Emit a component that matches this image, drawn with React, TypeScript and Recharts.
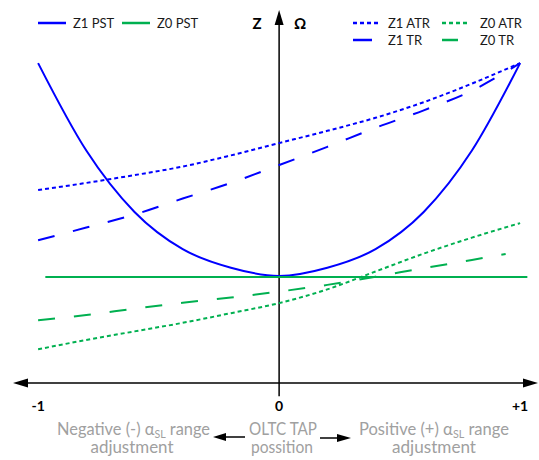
import { LineChart, Line, XAxis, YAxis, ReferenceLine, Legend } from "recharts";

// OLTC tap position, normalised -1 .. +1
const taps = [-1, -0.8, -0.6, -0.4, -0.2, 0, 0.2, 0.4, 0.6, 0.8, 1];
const z1Pst = [86, 62.5, 46, 36, 31, 28.8, 31, 36, 46, 62.5, 86];
const z1Atr = [51.9, 53.8, 55.9, 58.2, 61.2, 64.5, 67.8, 71.3, 75.5, 80.5, 86];
const z1Tr = [38.4, 41.8, 45.3, 49.6, 53.8, 58.6, 63.5, 68.6, 73.3, 78.6, 86];
const z0Atr = [9.1, 11.6, 13.9, 16.2, 18.8, 21.5, 25.2, 30.0, 34.8, 39.1, 43];
const z0TrTaps = [-1, -0.8, -0.6, -0.4, -0.2, 0, 0.2, 0.4, 0.6, 0.8, 0.94];
const z0Tr = [16.9, 18.3, 20.0, 21.6, 23.0, 24.6, 26.4, 28.6, 30.9, 33.1, 34.7];
const z0PstTaps = [-0.97, 1.03];
const z0Pst = [28.5, 28.5];

const tickTaps = [-1, 0, 1];
const tickLabels = ["-1", "0", "+1"];

const BLUE = "#0000ff";
const GREEN = "#00b050";
const GRAY = "#a0a0a0";
const FONT = "Lato, 'Open Sans', sans-serif";

const toPoints = (xs: number[], ys: number[]) => xs.map((tap, i) => ({ tap, z: ys[i] }));

const series = [
  { name: "Z1 PST", data: toPoints(taps, z1Pst), color: BLUE, dash: undefined, curve: "monotone" },
  { name: "Z0 PST", data: toPoints(z0PstTaps, z0Pst), color: GREEN, dash: undefined, curve: "linear" },
  { name: "Z1 ATR", data: toPoints(taps, z1Atr), color: BLUE, dash: "4 3", curve: "monotone" },
  { name: "Z0 ATR", data: toPoints(taps, z0Atr), color: GREEN, dash: "4 3", curve: "monotone" },
  { name: "Z1 TR", data: toPoints(taps, z1Tr), color: BLUE, dash: "17 19", curve: "monotone" },
  { name: "Z0 TR", data: toPoints(z0TrTaps, z0Tr), color: GREEN, dash: "17 19", curve: "monotone" },
];

// legend slot: swatch start, swatch length, text start, row y
const legendSlots: Record<string, { x: number; len: number; tx: number; y: number }> = {
  "Z1 PST": { x: 38, len: 28, tx: 73, y: 23 },
  "Z0 PST": { x: 122, len: 28, tx: 157, y: 23 },
  "Z1 ATR": { x: 353, len: 27, tx: 388, y: 23 },
  "Z0 ATR": { x: 442, len: 28, tx: 480, y: 23 },
  "Z1 TR": { x: 353, len: 19, tx: 388, y: 40 },
  "Z0 TR": { x: 442, len: 16, tx: 480, y: 40 },
};

const LegendContent = (props: any) => {
  const payload = props.payload || [];
  return (
    <svg width={539} height={50} style={{ display: "block" }}>
      {payload.map((item: any) => {
        const s = legendSlots[item.value];
        if (!s) return null;
        const dash = item.payload?.strokeDasharray;
        return (
          <g key={item.value}>
            <line x1={s.x} y1={s.y} x2={s.x + s.len} y2={s.y} stroke={item.color} strokeWidth={2.5} strokeDasharray={dash === "17 19" ? undefined : dash} />
            <text x={s.tx} y={s.y + 5} fontSize={13} fontFamily={FONT} fill="#1a1a1a">{item.value}</text>
          </g>
        );
      })}
    </svg>
  );
};

const XArrowAxis = (p: any) => {
  const { x1, y1, x2, y2 } = p;
  return (
    <g>
      <line x1={x1 + 4} y1={y1} x2={x2 - 4} y2={y2} stroke="#000" strokeWidth={1.5} />
      <polygon points={`${x1 - 1},${y1} ${x1 + 14},${y1 - 4.5} ${x1 + 14},${y1 + 4.5}`} fill="#000" />
      <polygon points={`${x2 + 1},${y2} ${x2 - 14},${y2 - 4.5} ${x2 - 14},${y2 + 4.5}`} fill="#000" />
    </g>
  );
};

const YArrowAxis = (p: any) => {
  const { x1, y1, x2, y2 } = p;
  const top = Math.min(y1, y2);
  const bottom = Math.max(y1, y2);
  return (
    <g>
      <line x1={x1} y1={bottom} x2={x2} y2={top + 4} stroke="#000" strokeWidth={1.5} />
      <polygon points={`${x1},${top - 1} ${x1 - 4.5},${top + 14} ${x1 + 4.5},${top + 14}`} fill="#000" />
      <text x={x1 - 22} y={top + 18} fontSize={15} fontWeight="bold" fontFamily={FONT} textAnchor="middle">Z</text>
      <text x={x1 + 21} y={top + 18} fontSize={15} fontWeight="bold" fontFamily={FONT} textAnchor="middle">Ω</text>
    </g>
  );
};

const TapTick = (p: any) => {
  const { x, y, payload } = p;
  return (
    <text x={x} y={y + 13} textAnchor="middle" fontSize={14} fontWeight="bold" fontFamily={FONT} fill="#000">
      {tickLabels[tickTaps.indexOf(payload.value)]}
    </text>
  );
};

const Caption = (p: any) => {
  const vb = p.viewBox || { x: 14, y: 398 };
  const ox = vb.x;
  const y1 = 435;
  const y2 = 453;
  const t = {
    fontSize: 17,
    fontFamily: FONT,
    fill: GRAY,
    textAnchor: "middle" as const,
    lengthAdjust: "spacingAndGlyphs" as const,
  };
  return (
    <g>
      <text x={ox + 119.5} y={y1} textLength={153} {...t}>
        Negative (-) α<tspan fontSize={11} dy={3}>SL</tspan>
        <tspan dy={-3}> range</tspan>
      </text>
      <text x={ox + 118} y={y2} textLength={83} {...t}>adjustment</text>
      <text x={ox + 269} y={y1} textLength={68} {...t}>OLTC TAP</text>
      <text x={ox + 268} y={y2} textLength={62} {...t}>possition</text>
      <text x={ox + 420} y={y1} textLength={150} {...t}>
        Positive (+) α<tspan fontSize={11} dy={3}>SL</tspan>
        <tspan dy={-3}> range</tspan>
      </text>
      <text x={ox + 420} y={y2} textLength={84} {...t}>adjustment</text>
      <line x1={ox + 210} y1={437} x2={ox + 231} y2={437} stroke="#000" strokeWidth={1.5} />
      <polygon points={`${ox + 199},437 ${ox + 212},433 ${ox + 212},441`} fill="#000" />
      <line x1={ox + 306} y1={438} x2={ox + 325} y2={438} stroke="#000" strokeWidth={1.5} />
      <polygon points={`${ox + 337},438 ${ox + 323},434 ${ox + 323},442`} fill="#000" />
    </g>
  );
};

export default function App() {
  return (
    <div style={{ position: "absolute", left: 0, top: 0, background: "#fff" }}>
      <LineChart width={539} height={460} margin={{ top: 11, right: 2, left: 14, bottom: 32 }}>
        <XAxis
          type="number"
          dataKey="tap"
          domain={[-1.1, 1.07]}
          allowDataOverflow
          ticks={tickTaps}
          axisLine={false}
          tickLine={false}
          tickSize={0}
          tickMargin={0}
          height={30}
          tick={<TapTick />}
          label={<Caption />}
        />
        <YAxis type="number" domain={[-4, 100]} allowDataOverflow hide />
        <Legend
          layout="horizontal"
          verticalAlign="middle"
          align="center"
          wrapperStyle={{ top: 0, left: 0, width: 539, height: 50 }}
          content={<LegendContent />}
        />
        <ReferenceLine segment={[{ x: -1.1, y: 0 }, { x: 1.07, y: 0 }]} ifOverflow="visible" shape={<XArrowAxis />} />
        <ReferenceLine segment={[{ x: 0, y: -3.5 }, { x: 0, y: 100 }]} ifOverflow="visible" shape={<YArrowAxis />} />
        {series.map((s) => (
          <Line
            key={s.name}
            data={s.data}
            dataKey="z"
            name={s.name}
            type={s.curve as any}
            stroke={s.color}
            strokeWidth={2}
            strokeDasharray={s.dash}
            dot={false}
            activeDot={false}
            isAnimationActive={false}
          />
        ))}
      </LineChart>
    </div>
  );
}
